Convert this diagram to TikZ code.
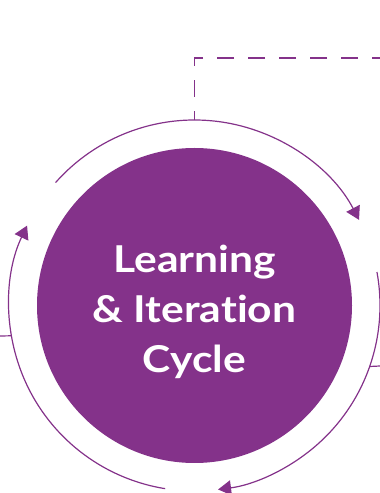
\documentclass[tikz,border=0pt]{standalone}
\usepackage{fontspec}
\setmainfont{Lato}[FakeStretch=1.15, RawFeature=-liga]
\usetikzlibrary{arrows.meta}
\definecolor{cyclepurple}{HTML}{84328A}

\tikzset{
    cyclearc/.style={draw=cyclepurple, line width=1.2pt, -{Triangle[length=13pt, width=15pt]}},
    feedback/.style={draw=cyclepurple, line width=1.8pt, dash pattern=on 17pt off 14pt, dash phase=9pt},
    stub/.style={draw=cyclepurple, line width=1.2pt}
}

\begin{document}
\begin{tikzpicture}[x=1pt, y=1pt]
        \useasboundingbox (0,0) rectangle (380,493);
        \node[circle, fill=cyclepurple, minimum size=315pt, inner sep=0pt] (cycle) at (194.5,187.5) {};
        \node[text=white, align=center, font=\bfseries\fontsize{37}{50}\selectfont]
            (cyclelabel) at ([yshift=-6.5pt]cycle.center) {Learning\\\& Iteration\\Cycle};
        % arrows round the circle
        \draw[cyclearc] ([shift={(138.5:185.5)}]cycle.center) arc[start angle=138.5, end angle=27.5, radius=185.5];
        \draw[cyclearc] ([shift={(10.4:185.5)}]cycle.center) arc[start angle=10.4, end angle=-82.7, radius=185.5];
        \draw[cyclearc] ([shift={(-99.1:185.5)}]cycle.center) arc[start angle=-99.1, end angle=-205.5, radius=185.5];
        % feedback line
        \coordinate (looptop) at ([shift={(90:185.5)}]cycle.center);
        \coordinate (loopcorner) at (looptop |- 0,435);
        \coordinate (loopout) at (380,435);
        \draw[feedback] (loopout) -- (loopcorner) -- (looptop);
        % stubs
        \coordinate (leftin) at (0,157);
        \coordinate (leftarc) at ([shift={(189.4:185.5)}]cycle.center);
        \draw[stub] (leftin) -- (leftarc);
        \coordinate (rightin) at (380,127);
        \coordinate (rightarc) at ([shift={(-19.2:185.5)}]cycle.center);
        \draw[stub] (rightin) -- (rightarc);
\end{tikzpicture}
\end{document}
